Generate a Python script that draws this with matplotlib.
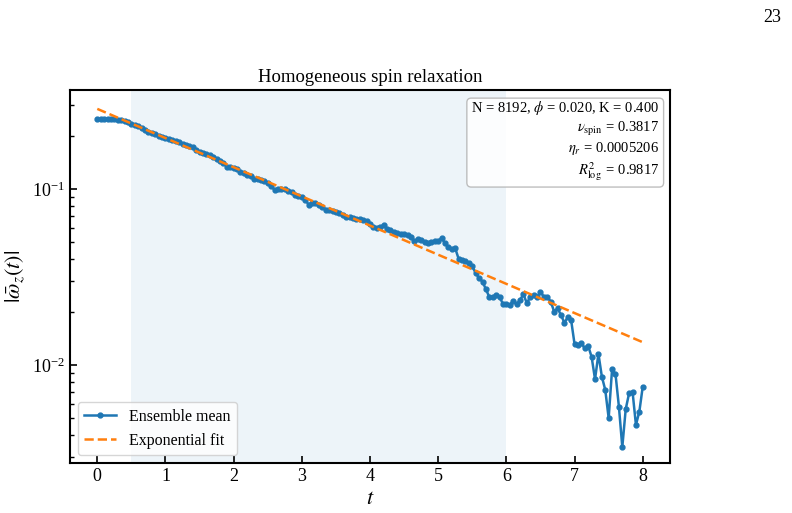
import numpy as np
import matplotlib
matplotlib.use('Agg')
import matplotlib.pyplot as plt

# serif look like the original (Times + stix math)
plt.rcParams['font.family'] = 'serif'
plt.rcParams['font.serif'] = ['Liberation Serif', 'DejaVu Serif']
plt.rcParams['mathtext.fontset'] = 'stix'

# sample times (dt = 0.05)
t = np.arange(161) * 0.05

# ensemble mean |omega_z(t)|
omega_mean = [
    0.250, 0.250, 0.250, 0.250, 0.250, 0.249, 0.248, 0.246, 0.243, 0.239,
    0.235, 0.231, 0.2265, 0.2220, 0.2172, 0.2118, 0.2075, 0.2040, 0.1998, 0.1975,
    0.1950, 0.1925, 0.1890, 0.1862, 0.1840, 0.1805, 0.1778, 0.1760, 0.1720, 0.1672,
    0.1630, 0.1600, 0.1585, 0.1556, 0.1515, 0.1475, 0.1435, 0.1395, 0.1340, 0.1330,
    0.1318, 0.1300, 0.1245, 0.1228, 0.1205, 0.1180, 0.1139, 0.1135, 0.1125, 0.1104,
    0.1075, 0.1040, 0.0987, 0.0995, 0.0998, 0.0995, 0.0975, 0.0955, 0.0925, 0.0912,
    0.0895, 0.0866, 0.0815, 0.0835, 0.0828, 0.0815, 0.0793, 0.0762, 0.0762, 0.0750,
    0.0735, 0.0726, 0.0707, 0.0696, 0.0689, 0.0687, 0.0671, 0.0672, 0.0667, 0.0658,
    0.0633, 0.0611, 0.0600, 0.0610, 0.0624, 0.0593, 0.0581, 0.0570, 0.0560, 0.0555,
    0.0551, 0.0546, 0.0534, 0.0503, 0.0518, 0.0510, 0.0500, 0.0491, 0.0497, 0.0503,
    0.0508, 0.0525, 0.0491, 0.0466, 0.0454, 0.0459, 0.0400, 0.0397, 0.0387, 0.0380,
    0.0363, 0.0332, 0.0311, 0.0297, 0.0269, 0.0243, 0.0244, 0.0250, 0.0243, 0.0222,
    0.0221, 0.0219, 0.0232, 0.0221, 0.0234, 0.0252, 0.0224, 0.0244, 0.0250, 0.0244,
    0.0259, 0.0244, 0.0243, 0.0229, 0.0201, 0.0210, 0.0192, 0.0174, 0.0186, 0.0179,
    0.0131, 0.0129, 0.0133, 0.0124, 0.0128, 0.0111, 0.00829, 0.01155, 0.00858, 0.00721,
    0.00498, 0.00945, 0.00889, 0.00580, 0.00341, 0.00560, 0.00691, 0.00705, 0.00456, 0.00543,
    0.00753,
]

# exponential fit parameters
fit_amp = 0.285
nu_spin = 0.3817
eta_r = 0.0005206
r2_log = 0.9817
fit_window = (0.5, 6.0)

fig = plt.figure(figsize=(7.92, 5.13), dpi=100)
ax = fig.add_axes([0.0884, 0.0975, 0.7576, 0.7271])

ax.axvspan(fit_window[0], fit_window[1], color='tab:blue', alpha=0.08, lw=0)
ax.plot(t, omega_mean, '-o', color='tab:blue', lw=1.8, ms=3.5, label='Ensemble mean')
ax.plot(t, fit_amp * np.exp(-nu_spin * t), '--', color='tab:orange', lw=1.8,
        label='Exponential fit')

ax.set_yscale('log')
ax.set_xlim(-0.4, 8.4)
ax.set_ylim(0.00277, 0.365)
ax.set_xticks(range(9))

ax.set_title('Homogeneous spin relaxation', fontsize=13.5)
ax.set_xlabel('$t$', fontsize=16)
ax.set_ylabel(r'$|\bar{\omega}_z(t)|$', fontsize=16)

ax.tick_params(which='both', direction='in', labelsize=13)
ax.tick_params(which='major', length=5, width=1.2)
ax.tick_params(which='minor', length=3, width=1)
for s in ax.spines.values():
    s.set_linewidth(1.5)

info = ('N = 8192, $\\phi$ = 0.020, K = 0.400\n'
        '$\\nu_{\\rm spin}$ = %.4f\n'
        '$\\eta_r$ = %.7f\n'
        '$R^2_{\\log}$ = %.4f') % (nu_spin, eta_r, r2_log)
ax.text(0.982, 0.975, info, transform=ax.transAxes, ha='right', va='top',
        fontsize=10.5, multialignment='right', linespacing=1.2,
        bbox=dict(boxstyle='round,pad=0.3', facecolor='white', edgecolor='0.7', alpha=0.85))

ax.legend(loc='lower left', fontsize=11.5, framealpha=0.8)

fig.text(0.987, 0.965, '23', ha='right', va='center', fontsize=13)

fig.savefig('out.png', dpi=100)
